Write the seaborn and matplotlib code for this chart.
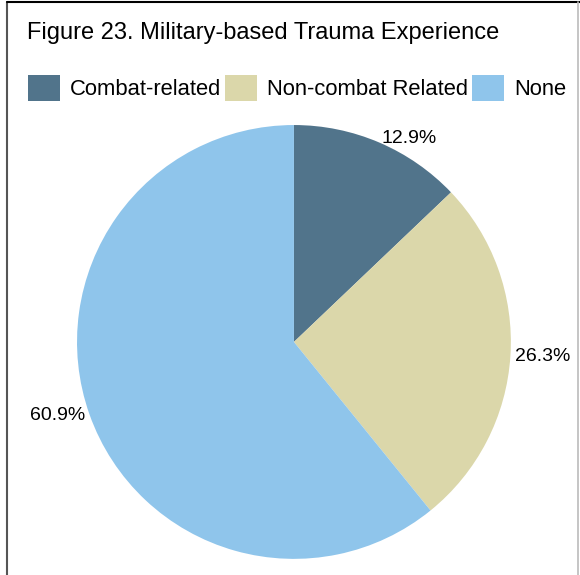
import matplotlib
matplotlib.use("Agg")
import matplotlib.pyplot as plt
import seaborn as sns
from matplotlib.lines import Line2D

# Data
categories = ["Combat-related", "Non-combat Related", "None"]
percents = [12.9, 26.3, 60.9]
colors = ["#51748b", "#dbd7aa", "#8fc5eb"]

sns.set_theme(style="white")
plt.rcParams["font.family"] = ["Liberation Sans", "DejaVu Sans"]

fig = plt.figure(figsize=(5.8, 5.75), dpi=100)
ax = fig.add_axes([0.1328, 0.0278, 0.748, 0.755])

wedges, texts = ax.pie(
    percents,
    colors=colors,
    labels=[f"{p}%" for p in percents],
    labeldistance=1.02,
    startangle=90,
    counterclock=False,
    wedgeprops={"linewidth": 0},
    textprops={"fontsize": 14, "color": "#000000"},
)
ax.set_xlim(-1, 1)
ax.set_ylim(-1, 1)
ax.set_aspect("equal")
ax.axis("off")

fig.text(0.047, 0.943, "Figure 23. Military-based Trauma Experience",
         fontsize=17, color="#000000", va="center", ha="left")

leg = fig.legend(wedges, categories, loc="center left", bbox_to_anchor=(0.048, 0.847),
                 ncol=3, frameon=False, fontsize=15.8, handlelength=1.45,
                 handleheight=1.4, handletextpad=0.45, columnspacing=0.2,
                 borderaxespad=0, borderpad=0)
for t in leg.get_texts():
    t.set_color("#000000")

# frame lines around the figure
fig.add_artist(Line2D([0.012, 0.012], [0, 0.997], transform=fig.transFigure,
                      color="#555555", lw=1.5))
fig.add_artist(Line2D([0.012, 1.0], [0.997, 0.997], transform=fig.transFigure,
                      color="#000000", lw=1.5))
fig.add_artist(Line2D([0.997, 0.997], [0, 0.997], transform=fig.transFigure,
                      color="#bbbbbb", lw=1.2))

fig.savefig("out.png", dpi=100)
